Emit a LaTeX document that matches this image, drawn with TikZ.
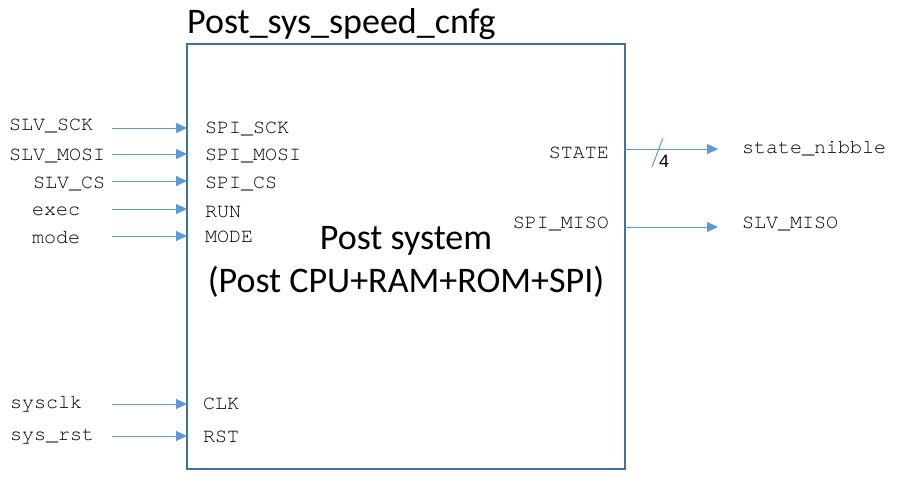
\documentclass[tikz,border=0pt]{standalone}
\usepackage{fontspec}
\setmainfont{Carlito}
\newfontfamily\monof{TeX Gyre Cursor}
\newfontfamily\arialf{Liberation Sans}
\usetikzlibrary{arrows.meta}
\definecolor{boxblue}{HTML}{41719C}
\definecolor{arrblue}{HTML}{5B9BD5}
\begin{document}
\begin{tikzpicture}[x=1pt,y=-1pt,
  lbl/.style={inner sep=0pt,anchor=base west,font=\monof\fontsize{20}{22}\selectfont},
  lblr/.style={inner sep=0pt,anchor=base east,font=\monof\fontsize{20}{22}\selectfont},
  sig/.style={draw=arrblue,line width=1pt,-{Triangle[length=11pt,width=10pt]}},
  blk/.style={draw=boxblue,line width=2pt,fill=none}]
\useasboundingbox (0,0) rectangle (900,491);
% block
\draw[blk] (187,44) rectangle (625,469);
\node[inner sep=0pt,anchor=base west,font=\fontsize{36}{40}\selectfont] (title) at (187,33) {Post\_sys\_speed\_cnfg};
\node[inner sep=0pt,anchor=base,font=\fontsize{36}{40}\selectfont] (m1) at (406,249) {Post system};
\node[inner sep=0pt,anchor=base,font=\fontsize{36}{40}\selectfont] (m2) at (406,292) {(Post CPU+RAM+ROM+SPI)};
% left outside labels
\node[lbl] (slvsck) at (9,130) {SLV\_SCK};
\node[lbl] (slvmosi) at (9,160) {SLV\_MOSI};
\node[lbl] (slvcs) at (33,188) {SLV\_CS};
\node[lbl] (exec) at (32,215) {exec};
\node[lbl] (mode) at (32,243) {mode};
\node[lbl] (sysclk) at (10,408) {sysclk};
\node[lbl] (sysrst) at (10,440) {sys\_rst};
% inside port labels
\node[lbl] (spisck) at (205,133) {SPI\_SCK};
\node[lbl] (spimosi) at (205,160) {SPI\_MOSI};
\node[lbl] (spics) at (205,188) {SPI\_CS};
\node[lbl] (run) at (205,217) {RUN};
\node[lbl] (modep) at (205,242) {MODE};
\node[lbl] (clk) at (203,409) {CLK};
\node[lbl] (rst) at (203,442) {RST};
\node[lblr] (state) at (609,158) {STATE};
\node[lblr] (spimiso) at (609,228) {SPI\_MISO};
% right outside labels
\node[lbl] (nib) at (742,153) {state\_nibble};
\node[lbl] (slvmiso) at (742,228) {SLV\_MISO};
% coordinates
\coordinate (a1s) at (112,128); \coordinate (a1e) at (187,128);
\coordinate (a2s) at (112,154); \coordinate (a2e) at (187,154);
\coordinate (a3s) at (112,181); \coordinate (a3e) at (187,181);
\coordinate (a4s) at (112,209); \coordinate (a4e) at (187,209);
\coordinate (a5s) at (112,236); \coordinate (a5e) at (187,236);
\coordinate (a6s) at (112,404); \coordinate (a6e) at (187,404);
\coordinate (a7s) at (112,436); \coordinate (a7e) at (187,436);
\coordinate (b1s) at (625,149); \coordinate (b1e) at (718,149);
\coordinate (b2s) at (625,227); \coordinate (b2e) at (718,227);
\foreach \i in {1,...,7} {\draw[sig] (a\i s) -- (a\i e);}
\draw[sig] (b1s) -- (b1e);
\draw[sig] (b2s) -- (b2e);
% bus slash
\coordinate (sl1) at (652,167); \coordinate (sl2) at (663,138);
\draw[draw=arrblue,line width=1pt] (sl1) -- (sl2);
\node[inner sep=0pt,anchor=base west,font=\arialf\fontsize{18}{20}\selectfont] (four) at (659,167.5) {4};
\end{tikzpicture}
\end{document}
